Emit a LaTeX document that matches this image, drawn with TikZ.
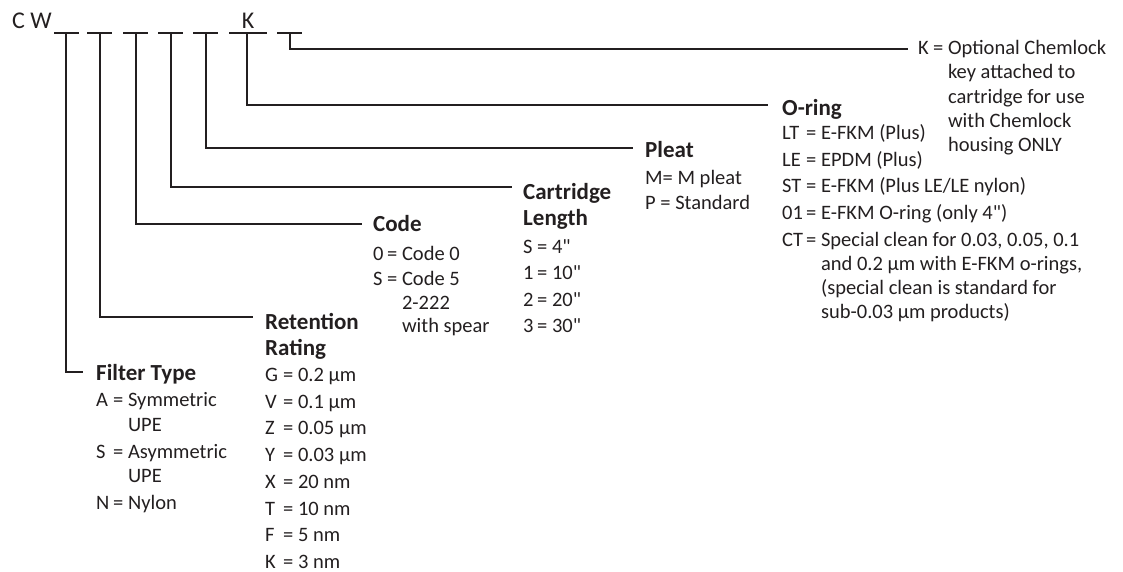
\documentclass[tikz,border=0pt]{standalone}
\usepackage{fontspec}
\setmainfont{Carlito}[Ligatures=TeXOff]
\definecolor{ink}{HTML}{231F20}
\newcommand{\itemfont}{\fontsize{20.5}{24.5}\selectfont}
\newcommand{\hdfont}{\fontsize{23}{26}\selectfont\bfseries}
\newcommand{\kv}[3]{\makebox[#1][l]{#2}=\ #3}
\newcommand{\kc}[2]{\hspace*{#1}\phantom{=\ }#2}
\newcommand{\inch}{{\char34}}
\begin{document}
\begin{tikzpicture}[x=1pt,y=-1pt,
  conn/.style={draw=ink,line width=1.7pt},
  head/.style={anchor=base west,inner sep=0pt,text=ink,font=\hdfont},
  list/.style={anchor=base west,inner sep=0pt,text=ink,font=\itemfont},
  codetext/.style={anchor=base,inner sep=0pt,text=ink,font=\fontsize{24}{28}\selectfont}]
\useasboundingbox (0,0) rectangle (1123,572);
% code row
\node[codetext,anchor=base west] (cw) at (12,29) {C W};
\node[codetext] (kk) at (248,29) {K};
\foreach \a/\b in {54/79,87/112,123/148,158/183,193/218,229/267,277/302}
  \draw[conn] (\a,33) -- (\b,33);
% tee points and line ends
\coordinate (t1) at (66,33);  \coordinate (e1) at (83,372);
\coordinate (t2) at (100,33); \coordinate (e2) at (253,317);
\coordinate (t3) at (136,33); \coordinate (e3) at (362,224);
\coordinate (t4) at (171,33); \coordinate (e4) at (512,187);
\coordinate (t5) at (206,33); \coordinate (e5) at (633,148);
\coordinate (t6) at (247,33); \coordinate (e6) at (768,105);
\coordinate (t7) at (290,33); \coordinate (e7) at (908,49);
\foreach \i in {1,...,7} \draw[conn] (t\i) |- (e\i);
% Filter Type
\node[head] (hft) at (96,380) {Filter Type};
\node[list] (ift) at (96,406.5) {\begin{tabular}[t]{@{}l@{}}
\kv{17pt}{A}{Symmetric}\\
\kc{17pt}{UPE}\\[2.5pt]
\kv{17pt}{S}{Asymmetric}\\
\kc{17pt}{UPE}\\[2.5pt]
\kv{17pt}{N}{Nylon}
\end{tabular}};
% Retention Rating
\node[head] (hrr) at (265,329.5) {\begin{tabular}[t]{@{}l@{}}Retention\\Rating\end{tabular}};
\node[list] (irr) at (265,381.5) {\begin{tabular}[t]{@{}l@{}}
\kv{18pt}{G}{0.2 µm}\\[2.2pt]
\kv{18pt}{V}{0.1 µm}\\[2.2pt]
\kv{18pt}{Z}{0.05 µm}\\[2.2pt]
\kv{18pt}{Y}{0.03 µm}\\[2.2pt]
\kv{18pt}{X}{20 nm}\\[2.2pt]
\kv{18pt}{T}{10 nm}\\[2.2pt]
\kv{18pt}{F}{5 nm}\\[2.2pt]
\kv{18pt}{K}{3 nm}
\end{tabular}};
% Code
\node[head] (hcd) at (373,231.5) {Code};
\node[list,font=\fontsize{20.5}{23.5}\selectfont] (icd) at (373,260.5) {\begin{tabular}[t]{@{}l@{}}
\kv{14pt}{0}{Code 0}\\[1.5pt]
\kv{14pt}{S}{Code 5}\\
\kc{14pt}{2-222}\\
\kc{14pt}{with spear}
\end{tabular}};
% Cartridge Length
\node[head] (hcl) at (523,199.5) {\begin{tabular}[t]{@{}l@{}}Cartridge\\Length\end{tabular}};
\node[list] (icl) at (523,253.5) {\begin{tabular}[t]{@{}l@{}}
\kv{14pt}{S}{4\inch}\\[1.8pt]
\kv{14pt}{1}{10\inch}\\[1.8pt]
\kv{14pt}{2}{20\inch}\\[1.8pt]
\kv{14pt}{3}{30\inch}
\end{tabular}};
% Pleat
\node[head] (hpl) at (645,157.5) {Pleat};
\node[list] (ipl) at (645,184.5) {\begin{tabular}[t]{@{}l@{}}
M= M pleat\\[0.5pt]
P = Standard
\end{tabular}};
% O-ring
\node[head] (hor) at (782,115.5) {O-ring};
\node[list,font=\fontsize{20.5}{24}\selectfont] (ior) at (782,139.5) {\begin{tabular}[t]{@{}l@{}}
\kv{24pt}{LT}{E-FKM (Plus)}\\[2.7pt]
\kv{24pt}{LE}{EPDM (Plus)}\\[2.7pt]
\kv{24pt}{ST}{E-FKM (Plus LE/LE nylon)}\\[2.7pt]
\kv{24pt}{01}{E-FKM O-ring (only 4\inch)}\\[2.7pt]
\kv{24pt}{CT}{Special clean for 0.03, 0.05, 0.1}\\
\kc{24pt}{and 0.2 µm with E-FKM o-rings,}\\
\kc{24pt}{(special clean is standard for}\\
\kc{24pt}{sub-0.03 µm products)}
\end{tabular}};
% K option
\node[list,font=\fontsize{20.5}{24.3}\selectfont] (ik) at (918,54.5) {\begin{tabular}[t]{@{}l@{}}
\kv{15pt}{K}{Optional Chemlock}\\
\kc{15pt}{key attached to}\\
\kc{15pt}{cartridge for use}\\
\kc{15pt}{with Chemlock}\\
\kc{15pt}{housing ONLY}
\end{tabular}};
\end{tikzpicture}
\end{document}
